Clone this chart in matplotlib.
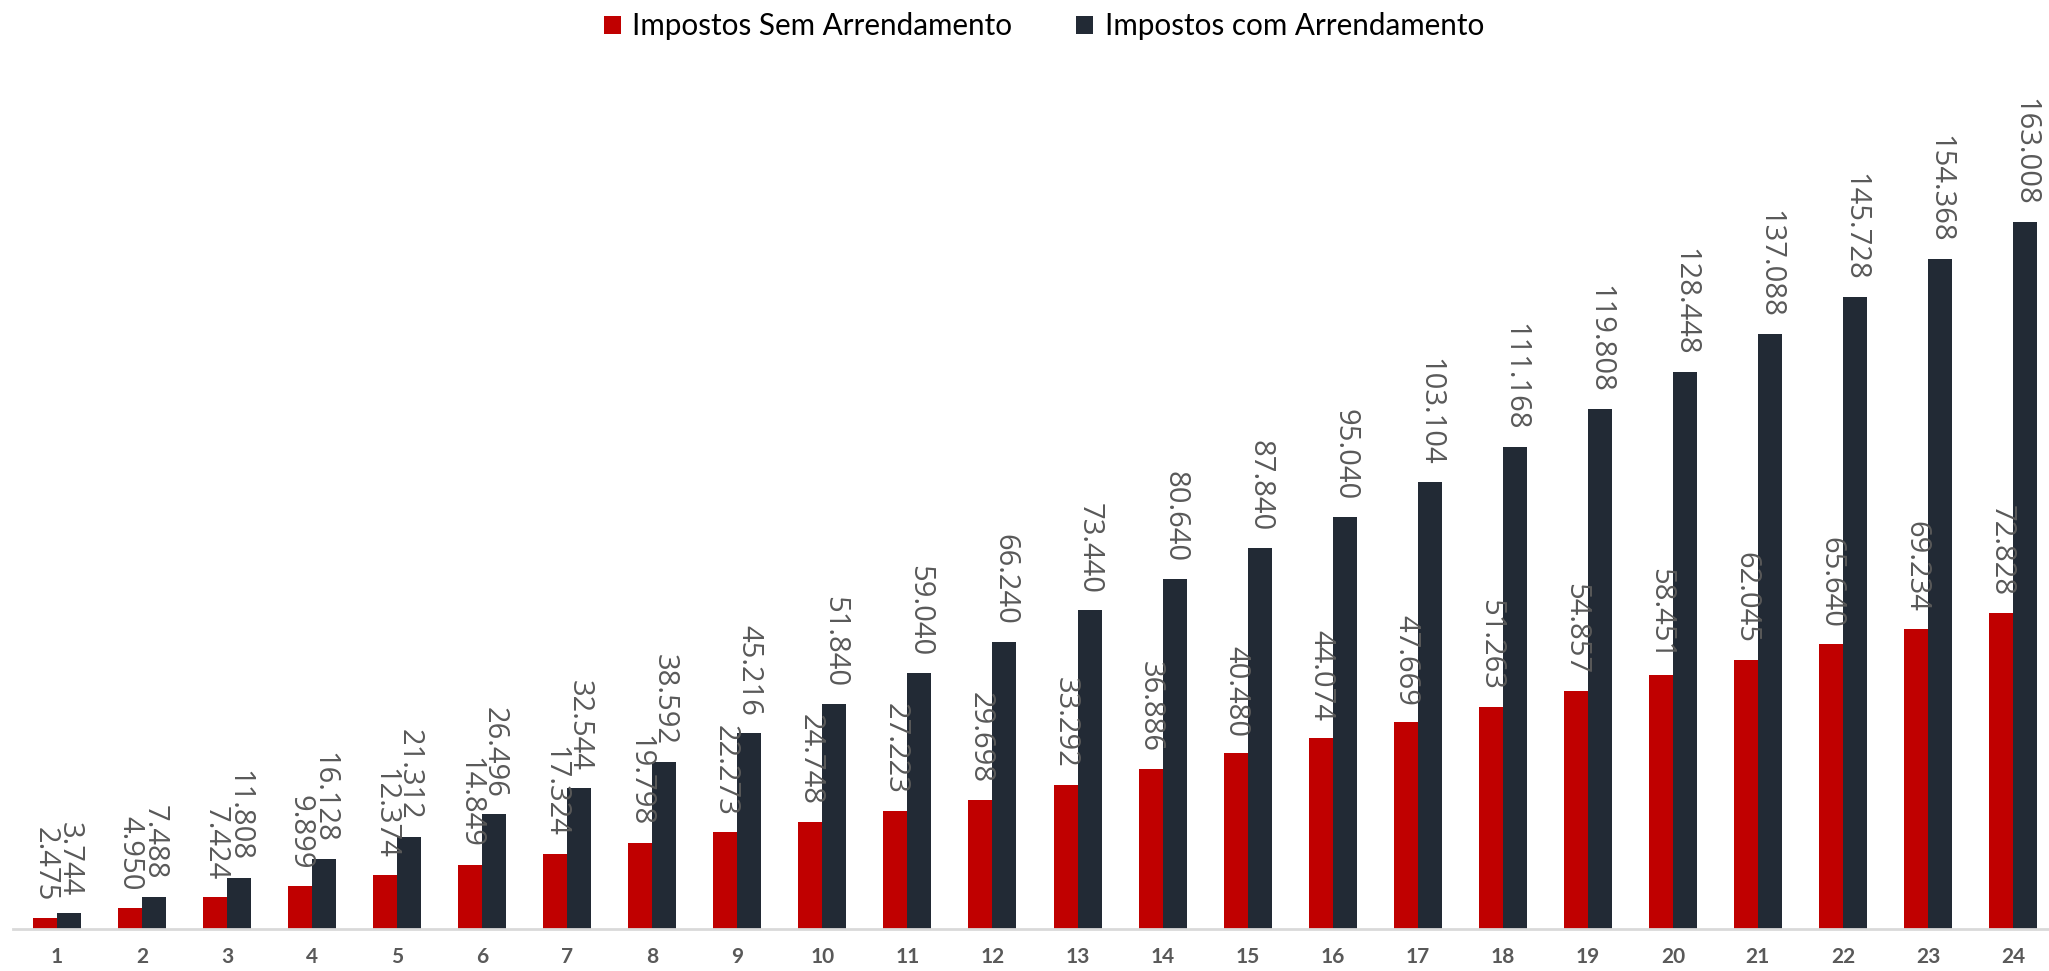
import numpy as np
import matplotlib
matplotlib.use("Agg")
import matplotlib.pyplot as plt

periods = [str(i) for i in range(1, 25)]
sem_arrend = [2.475, 4.950, 7.424, 9.899, 12.374, 14.849, 17.324, 19.798, 22.273, 24.748,
              27.223, 29.698, 33.292, 36.886, 40.480, 44.074, 47.669, 51.263, 54.857, 58.451,
              62.045, 65.640, 69.234, 72.828]
com_arrend = [3.744, 7.488, 11.808, 16.128, 21.312, 26.496, 32.544, 38.592, 45.216, 51.840,
              59.040, 66.240, 73.440, 80.640, 87.840, 95.040, 103.104, 111.168, 119.808, 128.448,
              137.088, 145.728, 154.368, 163.008]

RED = "#C00000"
DARK = "#222A35"
GREY = "#595959"

W, H = 2049, 971
fig = plt.figure(figsize=(W / 100, H / 100), dpi=100)
# axes spans from the baseline (y=929px) up to y=80px
ax = fig.add_axes([13 / W, (H - 929) / H, (W - 13) / W, (929 - 80) / H])

x = np.arange(1, 25)
step = 85.04  # pixels between groups
bw = 24 / step
b1 = ax.bar(x - bw / 2, sem_arrend, bw, color=RED, label="Impostos Sem Arrendamento")
b2 = ax.bar(x + bw / 2, com_arrend, bw, color=DARK, label="Impostos com Arrendamento")

for bars, vals in [(b1, sem_arrend), (b2, com_arrend)]:
    for r, v in zip(bars, vals):
        ax.annotate("%.3f" % v, (r.get_x() + r.get_width() / 2, r.get_height()),
                    xytext=(0, 12), textcoords="offset points", rotation=-90,
                    rotation_mode="anchor", ha="right", va="center",
                    fontsize=21, color=GREY, family="Open Sans")

ax.set_xlim(1 - 44 / step, 24 + 36 / step)
ax.set_ylim(0, (929 - 80) / (707 / 163.008))
ax.set_xticks(x)
ax.set_xticklabels(periods, fontsize=15, fontweight="bold", color=GREY, family="Lato")
ax.tick_params(axis="x", length=0, pad=13)
ax.set_yticks([])
for s in ["top", "right", "left"]:
    ax.spines[s].set_visible(False)
ax.spines["bottom"].set_color("#D9D9D9")
ax.spines["bottom"].set_linewidth(2)

fig.legend(handles=[b1, b2], loc="upper center", bbox_to_anchor=(0.5095, 1.015), ncol=2,
           frameon=False, prop={"family": "Lato", "size": 21.3}, handlelength=0.57,
           handleheight=0.57, columnspacing=2.15, handletextpad=0.4)

fig.savefig("out.png", dpi=100)
